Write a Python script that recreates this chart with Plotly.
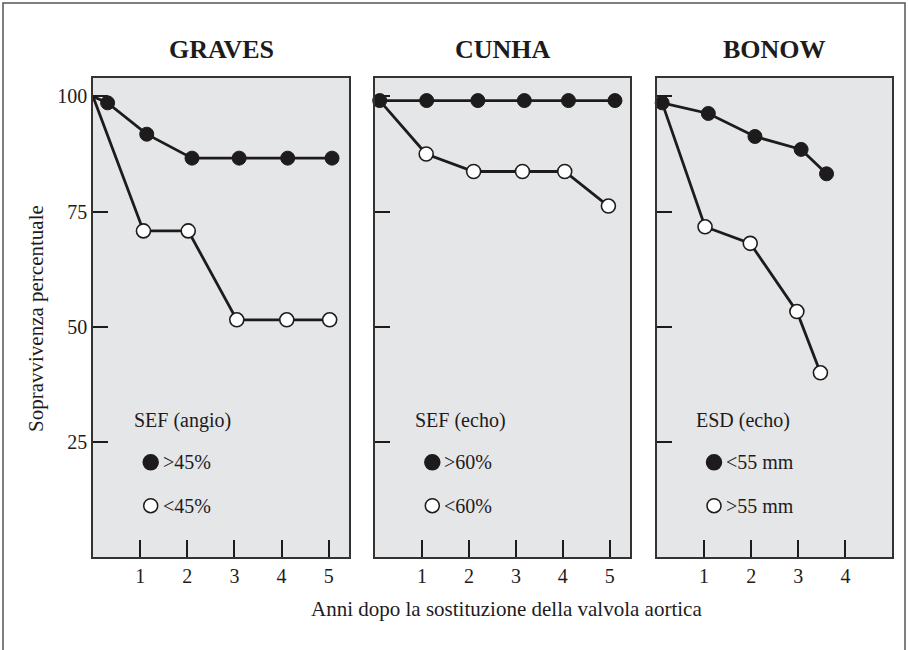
import plotly.graph_objects as go

# ---------------- data ----------------
panel_titles = ["GRAVES", "CUNHA", "BONOW"]
group_titles = ["SEF (angio)", "SEF (echo)", "ESD (echo)"]
filled_labels = [">45%", ">60%", "<55 mm"]
open_labels = ["<45%", "<60%", ">55 mm"]

graves_filled_x = [0, 0.31, 1.14, 2.10, 3.10, 4.13, 5.07]
graves_filled_y = [100, 98.6, 91.8, 86.6, 86.6, 86.6, 86.6]
graves_open_x = [0, 1.07, 2.02, 3.05, 4.11, 5.02]
graves_open_y = [100, 70.8, 70.8, 51.5, 51.5, 51.5]

cunha_filled_x = [0.10, 1.10, 2.19, 3.18, 4.12, 5.11]
cunha_filled_y = [99.1, 99.1, 99.1, 99.1, 99.1, 99.1]
cunha_open_x = [0.10, 1.09, 2.10, 3.14, 4.04, 4.97]
cunha_open_y = [99.1, 87.5, 83.7, 83.7, 83.7, 76.2]

bonow_filled_x = [0.11, 1.09, 2.08, 3.06, 3.60]
bonow_filled_y = [98.6, 96.3, 91.3, 88.5, 83.2]
bonow_open_x = [0.11, 1.02, 1.98, 2.97, 3.47]
bonow_open_y = [98.6, 71.7, 68.1, 53.3, 40.0]

x_ticks = [[1, 2, 3, 4, 5], [1, 2, 3, 4, 5], [1, 2, 3, 4]]
y_ticks = [25, 50, 75, 100]
x_title = "Anni dopo la sostituzione della valvola aortica"
y_title = "Sopravvivenza percentuale"

# ---------------- styling / layout ----------------
W, H = 908, 650
FONT = "Liberation Serif, Times New Roman, serif"
INK = "#1e1b1c"
PANEL_BG = "#e5e6e8"

def px(x):
    return x / W

def py(y):
    return 1 - y / H

panel_px = [(93, 349), (375, 630), (657, 892)]
panel_top, panel_bot = 78, 557
x_ranges = [[0, 5.43], [0, 5.43], [0, 4.99]]
y_range = [0, 104]

series = [
    (graves_filled_x, graves_filled_y, graves_open_x, graves_open_y, True),
    (cunha_filled_x, cunha_filled_y, cunha_open_x, cunha_open_y, False),
    (bonow_filled_x, bonow_filled_y, bonow_open_x, bonow_open_y, False),
]

fig = go.Figure()

for i, (fx, fy, ox, oy, graves_start) in enumerate(series):
    xa = "x" if i == 0 else f"x{i+1}"
    ya = "y" if i == 0 else f"y{i+1}"
    open_sizes = [0] + [14] * (len(ox) - 1)
    filled_sizes = ([0] if graves_start else [14]) + [14] * (len(fx) - 1)
    fig.add_trace(go.Scatter(
        x=ox, y=oy, xaxis=xa, yaxis=ya, mode="lines+markers",
        line=dict(color=INK, width=2.8),
        marker=dict(size=open_sizes, color="white", opacity=1,
                    line=dict(color=INK, width=1.6)),
        cliponaxis=False, showlegend=False, hoverinfo="skip"))
    fig.add_trace(go.Scatter(
        x=fx, y=fy, xaxis=xa, yaxis=ya, mode="lines+markers",
        line=dict(color=INK, width=2.8),
        marker=dict(size=filled_sizes, color=INK, opacity=1,
                    line=dict(color=INK, width=1)),
        cliponaxis=False, showlegend=False, hoverinfo="skip"))

layout = dict(
    width=W, height=H,
    margin=dict(l=0, r=0, t=0, b=0),
    paper_bgcolor="white",
    plot_bgcolor=PANEL_BG,
    font=dict(family=FONT, color=INK, size=20),
    showlegend=False,
)

axis_common = dict(
    showgrid=False, zeroline=False, showline=True, mirror=True,
    linecolor="#333333", linewidth=1.5,
    ticks="inside", tickcolor=INK, tickwidth=1.5,
    tickfont=dict(family=FONT, size=20, color=INK),
    fixedrange=True,
)

for i in range(3):
    sfx = "" if i == 0 else str(i + 1)
    x0, x1 = panel_px[i]
    layout[f"xaxis{sfx}"] = dict(
        axis_common, domain=[px(x0), px(x1)], range=x_ranges[i],
        tickvals=x_ticks[i], ticklen=17, anchor=f"y{sfx}",
    )
    layout[f"yaxis{sfx}"] = dict(
        axis_common, domain=[py(panel_bot), py(panel_top)], range=y_range,
        tickvals=y_ticks, ticklen=15, anchor=f"x{sfx}",
        showticklabels=(i == 0),
    )

fig.update_layout(**layout)

annotations = []
shapes = []

# panel titles
for i, t in enumerate(panel_titles):
    x0, x1 = panel_px[i]
    annotations.append(dict(
        text=f"<b>{t}</b>", x=px((x0 + x1) / 2), y=py(50), xref="paper", yref="paper",
        showarrow=False, xanchor="center", yanchor="middle",
        font=dict(family=FONT, size=26, color=INK)))

# in-panel keys
key_text_x = [131.7, 412.7, 694.3]
key_dot_x = [150.7, 432.3, 714.0]
for i in range(3):
    annotations.append(dict(
        text=group_titles[i], x=px(key_text_x[i]), y=py(420), xref="paper", yref="paper",
        showarrow=False, xanchor="left", yanchor="middle",
        font=dict(family=FONT, size=20, color=INK)))
    for lbl, yy, filled in ((filled_labels[i], 462.3, True), (open_labels[i], 505.7, False)):
        annotations.append(dict(
            text=lbl, x=px(key_dot_x[i] + 10), y=py(yy), xref="paper", yref="paper",
            showarrow=False, xanchor="left", yanchor="middle",
            font=dict(family=FONT, size=20, color=INK)))
        r = 7.5 if filled else 7
        shapes.append(dict(
            type="circle", xref="paper", yref="paper",
            x0=px(key_dot_x[i] - r), x1=px(key_dot_x[i] + r),
            y0=py(yy + r), y1=py(yy - r),
            fillcolor=INK if filled else "white",
            line=dict(color=INK, width=1.5)))

# axis titles
annotations.append(dict(
    text=x_title, x=px(507), y=py(609), xref="paper", yref="paper",
    showarrow=False, xanchor="center", yanchor="middle",
    font=dict(family=FONT, size=21, color=INK)))
annotations.append(dict(
    text=y_title, x=px(36), y=py(319), xref="paper", yref="paper",
    showarrow=False, xanchor="center", yanchor="middle", textangle=-90,
    font=dict(family=FONT, size=21, color=INK)))

# outer frame (open at bottom)
shapes.append(dict(
    type="path", xref="paper", yref="paper",
    path=f"M {px(3)} {py(660)} L {px(3)} {py(3)} L {px(905)} {py(3)} L {px(905)} {py(660)}",
    line=dict(color="#555555", width=1.5)))

fig.update_layout(annotations=annotations, shapes=shapes)

fig.write_html("out.html",
               config={"displayModeBar": False, "staticPlot": False},
               post_script="document.body.style.margin='0';document.body.style.overflow='hidden';")
